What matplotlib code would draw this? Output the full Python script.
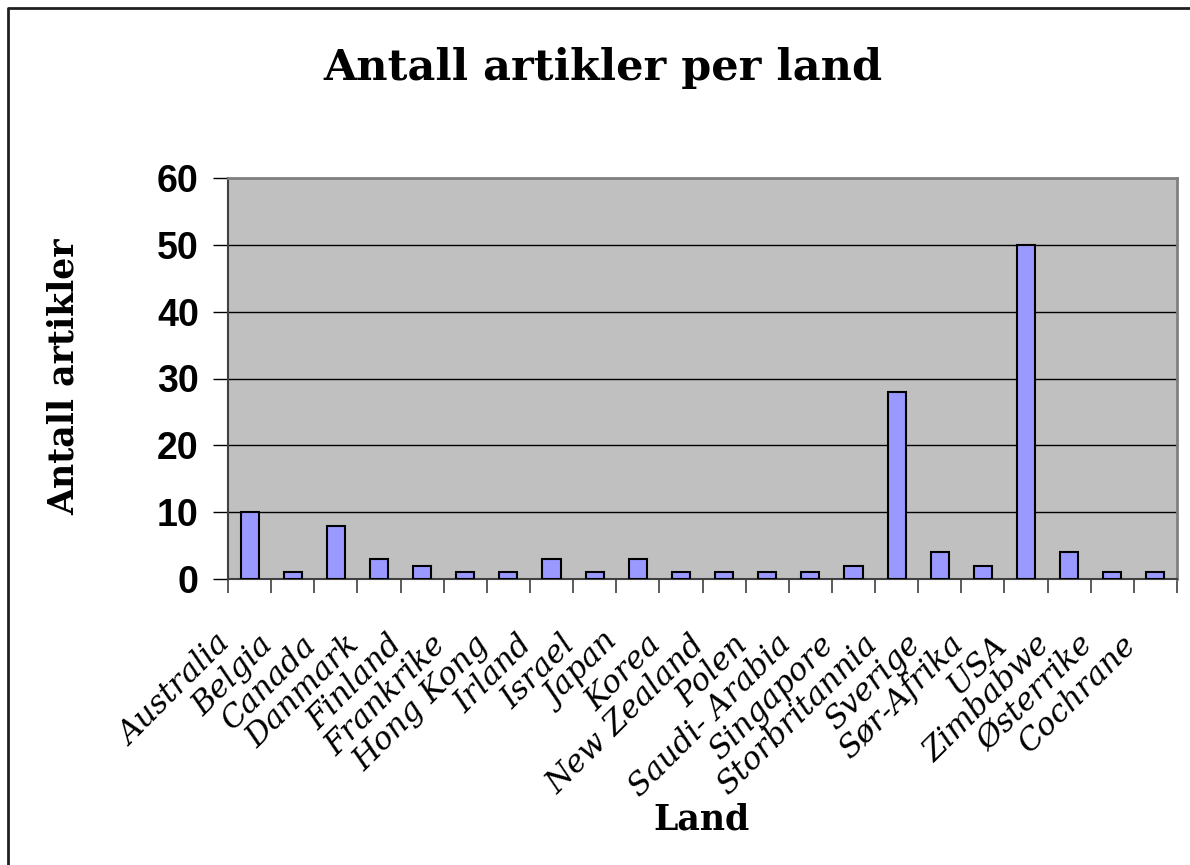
import matplotlib
matplotlib.use("Agg")
import matplotlib.pyplot as plt
import matplotlib.transforms as mtransforms
from matplotlib.lines import Line2D
import numpy as np

land = ["Australia", "Belgia", "Canada", "Danmark", "Finland", "Frankrike",
        "Hong Kong", "Irland", "Israel", "Japan", "Korea", "New Zealand",
        "Polen", "Saudi- Arabia", "Singapore", "Storbritannia", "Sverige",
        "Sør-Afrika", "USA", "Zimbabwe", "Østerrike", "Cochrane"]
antall = [10, 1, 8, 3, 2, 1, 1, 3, 1, 3, 1, 1, 1, 1, 2, 28, 4, 2, 50, 4, 1, 1]
y_ticks = [0, 10, 20, 30, 40, 50, 60]

fig = plt.figure(figsize=(11.9, 8.65), dpi=100)
ax = fig.add_axes([228/1190, 1 - 579/865, (1177-228)/1190, (579-178)/865])

x = np.arange(len(land))
ax.bar(x, antall, 0.42, color="#9999FF", edgecolor="black", linewidth=1.5, zorder=3)

ax.set_facecolor("#C0C0C0")
ax.set_xlim(-0.5, len(land) - 0.5)
ax.set_ylim(0, 60)
ax.set_yticks(y_ticks)
ax.set_yticklabels([str(v) for v in y_ticks], family="Liberation Sans",
                   fontweight="bold", fontsize=27)
ax.tick_params(axis="y", length=11, width=1, pad=10)
ax.grid(axis="y", color="black", linewidth=1, zorder=1)

ax.set_xticks(x)
ax.set_xticklabels(land, family="DejaVu Serif", style="italic", fontsize=22.5,
                   rotation=45, ha="right", va="top")
ax.set_xticks(np.arange(len(land) + 1) - 0.5, minor=True)
ax.tick_params(axis="x", which="major", length=0, pad=36)
ax.tick_params(axis="x", which="minor", length=10, width=1.2, color="#404040")
offset = mtransforms.ScaledTranslation(-0.13, 0, fig.dpi_scale_trans)
for lab in ax.get_xticklabels():
    lab.set_transform(lab.get_transform() + offset)

for s in ["top", "right"]:
    ax.spines[s].set_color("#808080")
    ax.spines[s].set_linewidth(2)
ax.spines["left"].set_color("#404040")
ax.spines["bottom"].set_color("#404040")
ax.spines["left"].set_linewidth(1.5)
ax.spines["bottom"].set_linewidth(1.5)

fig.text(603/1190, 1 - 68/865, "Antall artikler per land", family="DejaVu Serif",
         fontweight="bold", fontsize=31, ha="center", va="center")
fig.text(64/1190, 1 - 377/865, "Antall artikler", family="DejaVu Serif",
         fontweight="bold", fontsize=25, rotation=90, ha="center", va="center")
fig.text(702/1190, 1 - 820/865, "Land", family="DejaVu Serif",
         fontweight="bold", fontsize=25, ha="center", va="center")

fig.add_artist(Line2D([8/1190, 8/1190, 1.0], [0.0, 1 - 8/865, 1 - 8/865],
                      transform=fig.transFigure, color="#202020", linewidth=2))

fig.savefig("out.png", dpi=100)
